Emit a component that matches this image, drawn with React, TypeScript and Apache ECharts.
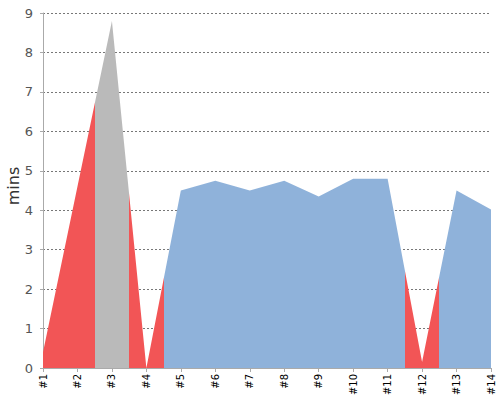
import React, { useEffect, useRef } from "react";
import * as echarts from "echarts";

const categories = ["#1", "#2", "#3", "#4", "#5", "#6", "#7", "#8", "#9", "#10", "#11", "#12", "#13", "#14"];
const values = [0.4, 4.6, 8.8, 0, 4.5, 4.75, 4.5, 4.75, 4.35, 4.8, 4.8, 0.15, 4.5, 4.02];
const yTicks = { min: 0, max: 9, interval: 1 };
const yTitle = "mins";
// colour bands along the category index: [from, to, colour]
const bandEdges = [0, 1.5, 2.5, 3.5, 10.5, 11.5, 13];
const bandColors = ["#f25556", "#bababa", "#f25556", "#8fb2da", "#f25556", "#8fb2da"];

export default function App() {
  const ref = useRef<HTMLDivElement>(null);
  useEffect(() => {
    const chart = echarts.init(ref.current!, null, { renderer: "svg" });
    const span = categories.length - 1;
    const stops: { offset: number; color: string }[] = [];
    bandColors.forEach((c, i) => {
      stops.push({ offset: bandEdges[i] / span, color: c });
      stops.push({ offset: bandEdges[i + 1] / span, color: c });
    });
    chart.setOption({
      animation: false,
      grid: { left: 43, right: 9, top: 13, bottom: 32, containLabel: false, outerBoundsMode: "none" },
      graphic: [
        {
          type: "text",
          x: 13,
          y: 186,
          rotation: Math.PI / 2,
          style: {
            text: yTitle,
            fontSize: 16,
            fill: "#333",
            fontFamily: "DejaVu Sans",
            align: "center",
            verticalAlign: "middle",
          },
        },
      ],
      xAxis: {
        type: "category",
        data: categories,
        boundaryGap: false,
        axisLine: { lineStyle: { color: "#aaa" } },
        axisTick: { show: true, length: 4, lineStyle: { color: "#aaa" } },
        axisLabel: { rotate: 90, fontSize: 10, color: "#000", fontFamily: "DejaVu Sans", margin: 6 },
      },
      yAxis: {
        type: "value",
        min: yTicks.min,
        max: yTicks.max,
        interval: yTicks.interval,
        axisLine: { show: true, lineStyle: { color: "#aaa" } },
        axisTick: { show: true, length: 3, lineStyle: { color: "#aaa" } },
        axisLabel: { fontSize: 13, color: "#555", fontFamily: "DejaVu Sans", margin: 10 },
        splitLine: { lineStyle: { color: "#777", type: [2, 2], width: 1 } },
      },
      series: [
        {
          type: "line",
          data: values,
          symbol: "none",
          lineStyle: { width: 0 },
          areaStyle: { opacity: 1, color: new echarts.graphic.LinearGradient(0, 0, 1, 0, stops) },
          z: 1,
        },
      ],
    });
    return () => chart.dispose();
  }, []);
  return <div ref={ref} style={{ width: 500, height: 400, position: "absolute", left: 0, top: 0 }} />;
}
